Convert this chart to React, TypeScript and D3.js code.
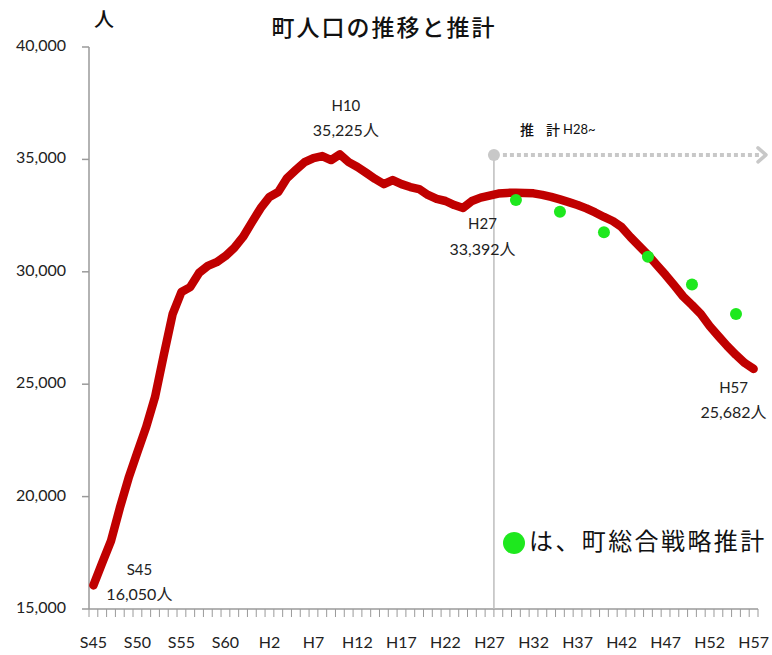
import React from 'react';
import * as d3 from 'd3';

// years S45 (1970) .. H57 (2045), one category per year
const years = d3.range(1970, 2046);

// town population, actual to H27 then projection
const population = [
  16050, 17050, 18030, 19490, 20830, 21980, 23100, 24430, 26300, 28120,
  29100, 29320, 29950, 30260, 30430, 30700, 31060, 31550, 32200, 32830,
  33330, 33550, 34170, 34530, 34880, 35060, 35150, 34970, 35225, 34880,
  34660, 34400, 34130, 33900, 34080, 33900, 33770, 33680, 33420, 33240,
  33150, 32970, 32840, 33150, 33300, 33392, 33480, 33510, 33520, 33510,
  33490, 33420, 33330, 33220, 33100, 32970, 32820, 32640, 32440, 32260,
  31990, 31550, 31150, 30750, 30300, 29860, 29390, 28900, 28520, 28120,
  27590, 27140, 26700, 26300, 25940, 25682,
];

// town comprehensive strategy estimate (green dots)
const strategyYears = [2018, 2023, 2028, 2033, 2038, 2043];
const strategyValues = [33190, 32670, 31760, 30670, 29440, 28120];

const xTickYears = [1970, 1975, 1980, 1985, 1990, 1995, 2000, 2005, 2010, 2015, 2020, 2025, 2030, 2035, 2040, 2045];
const xTickLabels = ['S45', 'S50', 'S55', 'S60', 'H2', 'H7', 'H12', 'H17', 'H22', 'H27', 'H32', 'H37', 'H42', 'H47', 'H52', 'H57'];
const yTicks = [15000, 20000, 25000, 30000, 35000, 40000];

const callouts = [
  { year: 1970, era: 'S45', value: '16,050', dx: 46, dy: -14 },
  { year: 1998, era: 'H10', value: '35,225', dx: 6, dy: -47 },
  { year: 2015, era: 'H27', value: '33,392', dx: -7, dy: 30 },
  { year: 2045, era: 'H57', value: '25,682', dx: -20, dy: 20 },
];

const NUM_FONT = 'Lato, "Noto Sans", sans-serif';
const JP_FONT = '"Noto Sans CJK JP", sans-serif';

export default function App() {
  const width = 772;
  const height = 655;

  const x = d3.scaleBand<number>().domain(years).range([89, 758]).padding(0);
  const cx = (yr: number) => (x(yr) ?? 0) + x.bandwidth() / 2;
  const y = d3.scaleLinear().domain([15000, 40000]).range([609, 47]);

  const line = d3.line<number>()
    .x((_, i) => cx(years[i]))
    .y(d => y(d));

  // boundary between H27 and H28 marks the start of projection
  const splitX = x(2016) ?? 0;
  const arrowY = y(35200);

  return (
    <svg width={width} height={height} style={{ position: 'absolute', left: 0, top: 0, background: '#fff' }}>
      {/* title */}
      <text x={104} y={22} fontFamily={JP_FONT} fontSize={20} fontWeight={500} textAnchor="middle" dominantBaseline="middle" fill="#111">人</text>
      <text x={384} y={30} fontFamily={JP_FONT} fontSize={23} fontWeight={500} letterSpacing={2} textAnchor="middle" dominantBaseline="middle" fill="#111">町人口の推移と推計</text>

      {/* y axis */}
      <line x1={89} x2={89} y1={y(40000)} y2={y(15000)} stroke="#9a9a9a" strokeWidth={1.5} />
      {yTicks.map(t => (
        <g key={t}>
          <line x1={82} x2={89} y1={y(t)} y2={y(t)} stroke="#9a9a9a" strokeWidth={1.5} />
          <text x={66} y={y(t)} fontFamily={NUM_FONT} fontSize={16} textAnchor="end" dominantBaseline="middle" fill="#222">
            {d3.format(',')(t)}
          </text>
        </g>
      ))}

      {/* x axis */}
      <line x1={89} x2={758} y1={609} y2={609} stroke="#9a9a9a" strokeWidth={1.5} />
      {years.concat([2046]).map(yr => {
        const px = yr === 2046 ? 758 : (x(yr) ?? 0);
        return <line key={yr} x1={px} x2={px} y1={609} y2={617} stroke="#9a9a9a" strokeWidth={1} />;
      })}
      {xTickYears.map((yr, i) => (
        <text key={yr} x={cx(yr)} y={644} fontFamily={NUM_FONT} fontSize={16} textAnchor="middle" dominantBaseline="middle" fill="#222">
          {xTickLabels[i]}
        </text>
      ))}

      {/* projection marker */}
      <line x1={splitX} x2={splitX} y1={arrowY} y2={609} stroke="#bdbdbd" strokeWidth={1.5} />
      <line x1={splitX + 9} x2={760} y1={arrowY} y2={arrowY} stroke="#c8c8c8" strokeWidth={4} strokeDasharray="4,3" />
      <polyline points={`${758},${arrowY - 7} ${766},${arrowY} ${758},${arrowY + 7}`} fill="none" stroke="#c8c8c8" strokeWidth={3.5} strokeLinecap="round" strokeLinejoin="round" />
      <circle cx={splitX} cy={arrowY} r={6} fill="#c8c8c8" />
      <text x={520} y={131} dominantBaseline="middle" fill="#111">
        <tspan fontFamily={JP_FONT} fontSize={14} fontWeight={500}>推</tspan>
        <tspan dx={12} fontFamily={JP_FONT} fontSize={14} fontWeight={500}>計</tspan>
        <tspan dx={3} fontFamily={NUM_FONT} fontSize={13}>H28~</tspan>
      </text>

      {/* population line */}
      <path d={line(population) ?? ''} fill="none" stroke="#c00000" strokeWidth={8.5} strokeLinejoin="round" strokeLinecap="round" />

      {/* strategy estimate */}
      {strategyYears.map((yr, i) => (
        <circle key={yr} cx={cx(yr)} cy={y(strategyValues[i])} r={6} fill="#1ee81e" />
      ))}

      {/* callouts */}
      {callouts.map(c => {
        const px = cx(c.year) + c.dx;
        const py = y(population[c.year - 1970]) + c.dy;
        return (
          <g key={c.era}>
            <text x={px} y={py} fontFamily={NUM_FONT} fontSize={15} textAnchor="middle" dominantBaseline="middle" fill="#222">{c.era}</text>
            <text x={px} y={py + 25} textAnchor="middle" dominantBaseline="middle" fill="#222">
              <tspan fontFamily={NUM_FONT} fontSize={16}>{c.value}</tspan>
              <tspan fontFamily={JP_FONT} fontSize={16}>人</tspan>
            </text>
          </g>
        );
      })}

      {/* legend */}
      <circle cx={514} cy={543} r={11} fill="#1ee81e" />
      <text x={529} y={543} fontFamily={JP_FONT} fontSize={24} fontWeight={400} letterSpacing={2.4} dominantBaseline="middle" fill="#111">は、町総合戦略推計</text>
    </svg>
  );
}
